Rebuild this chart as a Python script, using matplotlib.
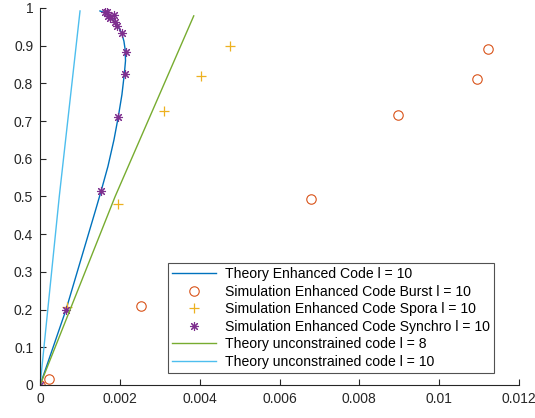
import numpy as np
import matplotlib
matplotlib.use('Agg')
import matplotlib.pyplot as plt

plt.rcParams['font.family'] = ['Liberation Sans', 'DejaVu Sans']

# Kurva teori enhanced code l = 10
teori_x = [0.0, 0.00065, 0.00139, 0.00153, 0.0017, 0.00185, 0.00196, 0.00205, 0.00211, 0.00214,
           0.00213, 0.0021, 0.00204, 0.00195, 0.00183, 0.0017, 0.0016, 0.0015]
teori_y = [0.0, 0.2, 0.464, 0.515, 0.58, 0.65, 0.712, 0.77, 0.825, 0.86,
           0.89, 0.912, 0.934, 0.952, 0.968, 0.98, 0.988, 0.992]

# Simulasi burst
burst_x = [0.0, 0.00023, 0.00254, 0.00678, 0.00897, 0.01096, 0.01123]
burst_y = [0.0, 0.016, 0.21, 0.492, 0.715, 0.812, 0.890]

# Simulasi spora
spora_x = [0.0, 0.00067, 0.00196, 0.0031, 0.00404, 0.00477]
spora_y = [0.0, 0.207, 0.48, 0.727, 0.82, 0.900]

# Simulasi synchro
sync_x = [0.0, 0.00065, 0.00153, 0.00196, 0.00212, 0.00214, 0.00204, 0.00192, 0.00188, 0.00175, 0.00185, 0.00168, 0.00163, 0.0017]
sync_y = [0.0, 0.2, 0.515, 0.712, 0.825, 0.884, 0.934, 0.952, 0.964, 0.973, 0.981, 0.988, 0.99, 0.978]

# Teori unconstrained code
unc8_x = [0.0, 0.00188, 0.00385]
unc8_y = [0.0, 0.5, 0.979]
unc10_x = [0.0, 0.00048, 0.001]
unc10_y = [0.0, 0.5, 0.992]

fig = plt.figure(figsize=(5.35, 4.18), dpi=100)
ax = fig.add_axes([0.075, 0.079, 0.895, 0.902])

ax.plot(teori_x, teori_y, '-', color='#0072BD', lw=1, label='Theory Enhanced Code l = 10')
ax.plot(burst_x, burst_y, 'o', mfc='none', mec='#D95319', ms=6.8, mew=0.8, label='Simulation Enhanced Code Burst l = 10')
ax.plot(spora_x, spora_y, '+', color='#EDB120', ms=6.5, mew=0.9, label='Simulation Enhanced Code Spora l = 10')
ax.plot(sync_x, sync_y, ls='none', marker=(8, 2, 0), color='#7E2F8E', mec='#7E2F8E', ms=6.5, mew=0.8,
        label='Simulation Enhanced Code Synchro l = 10')
ax.plot(unc8_x, unc8_y, '-', color='#77AC30', lw=1, label='Theory unconstrained code l = 8')
ax.plot(unc10_x, unc10_y, '-', color='#4DBEEE', lw=1, label='Theory unconstrained code l = 10')

ax.set_xlim(0, 0.012)
ax.set_ylim(0, 1)
ax.set_xticks(np.arange(0, 0.0121, 0.002))
ax.set_xticklabels(['0', '0.002', '0.004', '0.006', '0.008', '0.01', '0.012'])
ax.set_yticks(np.arange(0, 1.01, 0.1))
ax.set_yticklabels(['0', '0.1', '0.2', '0.3', '0.4', '0.5', '0.6', '0.7', '0.8', '0.9', '1'])

for s in ['top', 'right']:
    ax.spines[s].set_visible(False)
for s in ['left', 'bottom']:
    ax.spines[s].set_color('#262626')
    ax.spines[s].set_linewidth(0.8)
ax.tick_params(direction='in', length=4, width=0.8, colors='#262626', labelsize=10, pad=5)

leg = ax.legend(loc='lower right', bbox_to_anchor=(0.948, 0.032), fontsize=10.1,
                frameon=True, fancybox=False, edgecolor='#262626', handlelength=3.1,
                labelspacing=0.25, borderpad=0.3, handletextpad=0.65, borderaxespad=0)
leg.get_frame().set_linewidth(0.8)

plt.savefig('out.png', dpi=100)
